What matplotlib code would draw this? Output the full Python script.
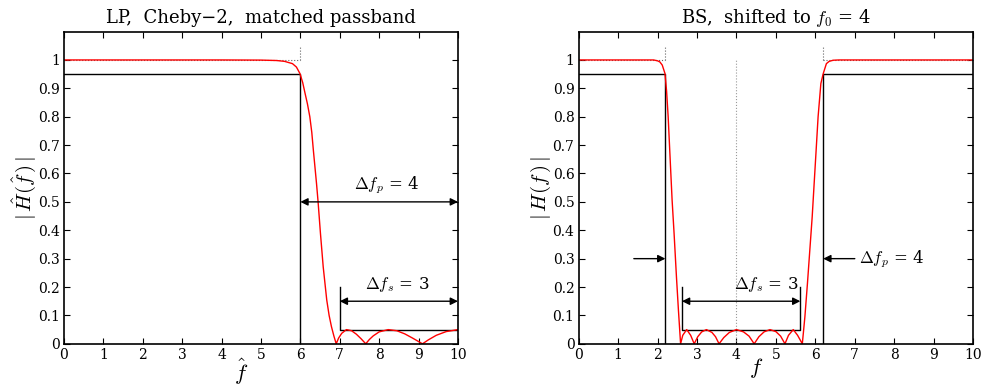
import matplotlib
matplotlib.use("Agg")
import matplotlib.pyplot as plt

plt.rcParams["font.family"] = ["DejaVu Serif"]
plt.rcParams["mathtext.fontset"] = "cm"

# left panel: lowpass Cheby-2 response
lp_f = [0, 4.0, 5.0, 5.4, 5.6, 5.8, 5.9, 5.99, 6.06, 6.12, 6.18, 6.24, 6.29, 6.33,
        6.41, 6.45, 6.51, 6.58, 6.67, 6.73, 6.79, 6.85, 6.91, 6.97, 7.05, 7.17,
        7.3, 7.42, 7.54, 7.66, 7.75, 7.85, 8.0, 8.23, 8.45, 8.65, 8.85, 9.1, 9.25,
        9.45, 9.7, 10.0]
lp_H = [1.0, 1.0, 0.9995, 0.998, 0.995, 0.987, 0.975, 0.952, 0.92, 0.882, 0.845,
        0.80, 0.745, 0.682, 0.565, 0.50, 0.389, 0.271, 0.154, 0.10, 0.06, 0.028,
        0.0, 0.02, 0.037, 0.05, 0.046, 0.034, 0.018, 0.0, 0.015, 0.028, 0.042,
        0.05, 0.046, 0.035, 0.02, 0.0, 0.014, 0.03, 0.043, 0.05]

# right panel: bandstop response
bs_f = [0, 1.9, 2.0, 2.06, 2.12, 2.19, 2.23, 2.27, 2.33, 2.37, 2.42, 2.48, 2.53,
        2.585, 2.64, 2.74, 2.84, 2.93, 3.02, 3.12, 3.24, 3.38, 3.47, 3.56, 3.68,
        3.82, 4.0, 4.18, 4.32, 4.45, 4.57, 4.7, 4.85, 5.0, 5.12, 5.23, 5.32, 5.44,
        5.55, 5.67, 5.735, 5.80, 5.86, 5.92, 5.97, 6.02, 6.07, 6.14, 6.20, 6.28,
        6.35, 6.45, 6.6, 10.0]
bs_H = [1.0, 1.0, 0.997, 0.993, 0.982, 0.952, 0.89, 0.80, 0.623, 0.506, 0.389,
        0.236, 0.119, 0.0, 0.03, 0.05, 0.03, 0.0, 0.025, 0.042, 0.05, 0.04,
        0.025, 0.0, 0.022, 0.04, 0.05, 0.042, 0.027, 0.0, 0.025, 0.042, 0.05,
        0.043, 0.027, 0.0, 0.03, 0.05, 0.03, 0.0, 0.095, 0.213, 0.33, 0.447,
        0.565, 0.682, 0.80, 0.917, 0.952, 0.987, 0.995, 0.999, 1.0, 1.0]

xticks = list(range(0, 11))
yticks = [0, 0.1, 0.2, 0.3, 0.4, 0.5, 0.6, 0.7, 0.8, 0.9, 1]
ylabels = ["0", "0.1", "0.2", "0.3", "0.4", "0.5", "0.6", "0.7", "0.8", "0.9", "1"]

fig = plt.figure(figsize=(9.84, 3.85), dpi=100)
ax1 = fig.add_axes([0.065, 0.107, 0.4004, 0.811])
ax2 = fig.add_axes([0.588, 0.107, 0.401, 0.811])

arrow2 = dict(arrowstyle="<|-|>", color="k", lw=1, mutation_scale=11, shrinkA=0, shrinkB=0)
arrow1 = dict(arrowstyle="-|>", color="k", lw=1, mutation_scale=11, shrinkA=0, shrinkB=0)

for ax in (ax1, ax2):
    ax.set_xlim(0, 10)
    ax.set_ylim(0, 1.1)
    ax.set_xticks(xticks)
    ax.set_yticks(yticks)
    ax.set_yticklabels(ylabels)
    ax.tick_params(direction="in", top=True, right=True, length=4, labelsize=10, pad=3)
    for s in ax.spines.values():
        s.set_linewidth(1.2)

# ---- left: LP
ax1.plot([0, 6], [1, 1], color="0.4", ls=":", lw=0.8)
ax1.plot([6, 6], [1, 1.05], color="0.4", ls=":", lw=0.8)
ax1.plot([0, 6, 6], [0.95, 0.95, 0], color="k", lw=1)
ax1.plot([7, 7, 10], [0.2, 0.05, 0.05], color="k", lw=1)
ax1.plot(lp_f, lp_H, color="r", lw=1)
ax1.annotate("", xy=(6, 0.5), xytext=(10, 0.5), arrowprops=arrow2)
ax1.annotate("", xy=(7, 0.15), xytext=(10, 0.15), arrowprops=arrow2)
ax1.text(8.2, 0.52, r"$\Delta f_p$ = 4", fontsize=12, ha="center", va="bottom")
ax1.text(8.45, 0.175, r"$\Delta f_s$ = 3", fontsize=12, ha="center", va="bottom")
ax1.set_title("LP,  Cheby\u22122,  matched passband", fontsize=13, pad=6)
ax1.set_ylabel(r"$|\,\hat{H}(\hat{f}\,)\,|$", fontsize=15, labelpad=0)
ax1.set_xlabel(r"$\hat{f}$", fontsize=16)
ax1.xaxis.set_label_coords(0.45, -0.04)

# ---- right: BS
ax2.plot([0, 2.2], [1, 1], color="0.4", ls=":", lw=0.8)
ax2.plot([6.2, 10], [1, 1], color="0.4", ls=":", lw=0.8)
ax2.plot([2.2, 2.2], [1, 1.05], color="0.4", ls=":", lw=0.8)
ax2.plot([6.2, 6.2], [1, 1.05], color="0.4", ls=":", lw=0.8)
ax2.plot([4, 4], [0, 1], color="0.6", ls=":", lw=0.8)
ax2.plot([0, 2.2, 2.2], [0.95, 0.95, 0], color="k", lw=1)
ax2.plot([10, 6.2, 6.2], [0.95, 0.95, 0], color="k", lw=1)
ax2.plot([2.62, 2.62, 5.62, 5.62], [0.2, 0.05, 0.05, 0.2], color="k", lw=1)
ax2.plot(bs_f, bs_H, color="r", lw=1)
ax2.annotate("", xy=(2.2, 0.3), xytext=(1.4, 0.3), arrowprops=arrow1)
ax2.annotate("", xy=(6.2, 0.3), xytext=(7.0, 0.3), arrowprops=arrow1)
ax2.annotate("", xy=(2.62, 0.15), xytext=(5.62, 0.15), arrowprops=arrow2)
ax2.text(7.1, 0.3, r"$\Delta f_p$ = 4", fontsize=12, ha="left", va="center")
ax2.text(4.75, 0.175, r"$\Delta f_s$ = 3", fontsize=12, ha="center", va="bottom")
ax2.set_title(r"BS,  shifted to $f_0$ = 4", fontsize=13, pad=6)
ax2.set_ylabel(r"$|\,H(f\,)\,|$", fontsize=15, labelpad=0)
ax2.set_xlabel(r"$f$", fontsize=16)
ax2.xaxis.set_label_coords(0.45, -0.04)

plt.savefig("out.png", dpi=100)
plt.close()
